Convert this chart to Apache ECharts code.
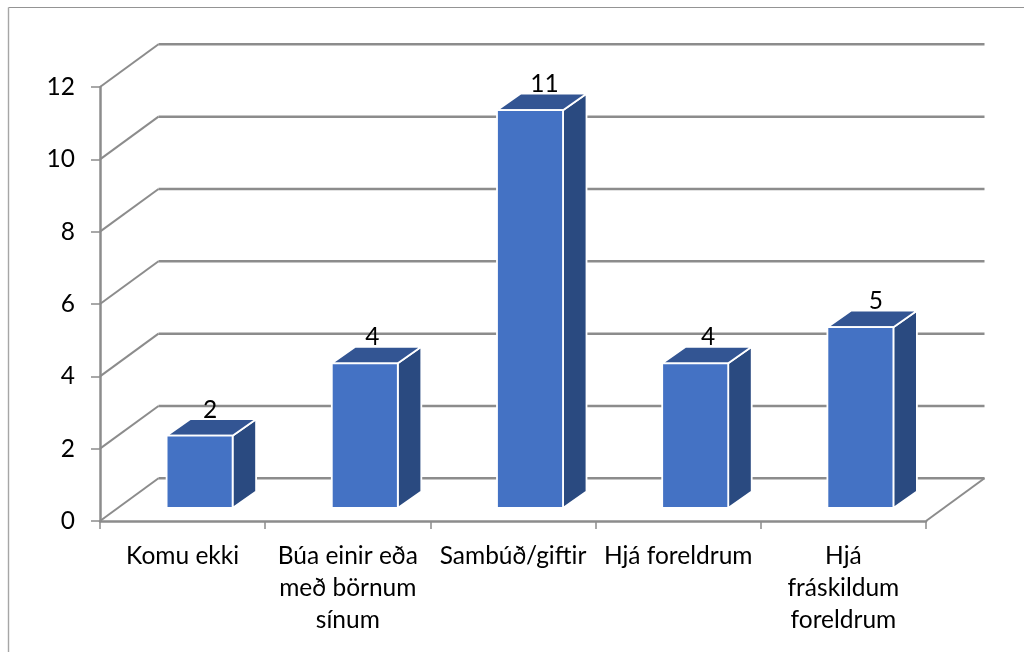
<!DOCTYPE html>
<html><head><meta charset="utf-8">
<style>html,body{margin:0;padding:0;background:#fff}#c{width:1024px;height:652px}</style>
<script src="https://cdn.jsdelivr.net/npm/echarts@6/dist/echarts.min.js"></script>
</head><body><div id="c"></div>
<script>
const categories = ['Komu ekki','Búa einir eða\nmeð börnum\nsínum','Sambúð/giftir','Hjá foreldrum','Hjá\nfráskildum\nforeldrum'];
const values = [2,4,11,4,5];
const yTicks = [0,2,4,6,8,10,12];

const FONT = 'Lato';
const WALL = [58.5,-42.7], OFF = [17,-13], DEPTH = [23.5,-16.5], HALF = 33;
const LABEL_NUDGE = [-0.5,-3.5,3.5,2,4.5];
const GRID = '#8c8c8c';
const chart = echarts.init(document.getElementById('c'), null, {renderer:'canvas'});
const line = (a,b,w) => ({type:'line',shape:{x1:a[0],y1:a[1],x2:b[0],y2:b[1]},style:{stroke:GRID,lineWidth:w}});
chart.setOption({
  animation:false,
  backgroundColor:'#fff',
  grid:{left:100,right:98,top:87,bottom:131,containLabel:false},
  graphic:[
    {type:'line',silent:true,z:-1,shape:{x1:8.5,y1:7.5,x2:1024,y2:7.5},style:{stroke:'#949494',lineWidth:1.2}},
    {type:'line',silent:true,z:-1,shape:{x1:8.5,y1:7.5,x2:8.5,y2:652},style:{stroke:'#a6a6a6',lineWidth:1.4}}
  ],
  xAxis:{type:'category',data:categories,boundaryGap:true,
    axisLine:{lineStyle:{color:GRID,width:2.5}},
    axisTick:{show:true,alignWithLabel:false,length:8,lineStyle:{color:GRID,width:1.5}},
    axisLabel:{interval:0,color:'#000',fontFamily:FONT,fontSize:24.5,lineHeight:32,margin:19,hideOverlap:false}},
  yAxis:{type:'value',min:0,max:12,interval:2,
    axisLine:{show:true,lineStyle:{color:GRID,width:2.5}},
    axisTick:{show:true,length:9,lineStyle:{color:GRID,width:1.5}},
    splitLine:{show:false},
    axisLabel:{color:'#000',fontFamily:FONT,fontSize:24.5,margin:25,padding:[2,0,0,0],formatter:v=>String(v)}},
  series:[
    {type:'custom',z:1,silent:true,coordinateSystem:'cartesian2d',
     data:yTicks.map(v=>[0,v]),
     renderItem(p,api){
       const y=api.value(1);
       const a=api.coord([0,y]); const size=api.size([1,0]);
       const left=a[0]-size[0]/2, right=left+size[0]*categories.length;
       const kids=[
         line([left,a[1]],[left+WALL[0],a[1]+WALL[1]],2),
         line([left+WALL[0],a[1]+WALL[1]],[right+WALL[0],a[1]+WALL[1]],2.5)];
       if(y===0) kids.push(line([right,a[1]],[right+WALL[0],a[1]+WALL[1]],2));
       return {type:'group',children:kids};
     }},
    {type:'custom',z:2,silent:true,coordinateSystem:'cartesian2d',
     data:values.map((v,i)=>[i,v]),
     encode:{x:0,y:1},
     renderItem(p,api){
       const i=api.value(0),v=api.value(1);
       const t=api.coord([i,v]),b=api.coord([i,0]);
       const x0=t[0]+OFF[0]-HALF,x1=t[0]+OFF[0]+HALF,yt=t[1]+OFF[1],yb=b[1]+OFF[1];
       const dx=DEPTH[0],dy=DEPTH[1];
       const edge={stroke:'#fff',lineWidth:1.8,lineJoin:'round'};
       return {type:'group',children:[
         {type:'polygon',shape:{points:[[x1,yt],[x1+dx,yt+dy],[x1+dx,yb+dy],[x1,yb]]},style:{fill:'#2a4a80',...edge}},
         {type:'polygon',shape:{points:[[x0,yt],[x0+dx,yt+dy],[x1+dx,yt+dy],[x1,yt]]},style:{fill:'#335593',...edge}},
         {type:'rect',shape:{x:x0,y:yt,width:x1-x0,height:yb-yt},style:{fill:'#4472c4',...edge}},
         {type:'text',style:{text:String(v),x:t[0]+OFF[0]+11+LABEL_NUDGE[i],y:yt-26,align:'center',verticalAlign:'middle',fill:'#000',font:'24.5px '+FONT}}
       ]};
     }}
  ]
});
</script></body></html>
